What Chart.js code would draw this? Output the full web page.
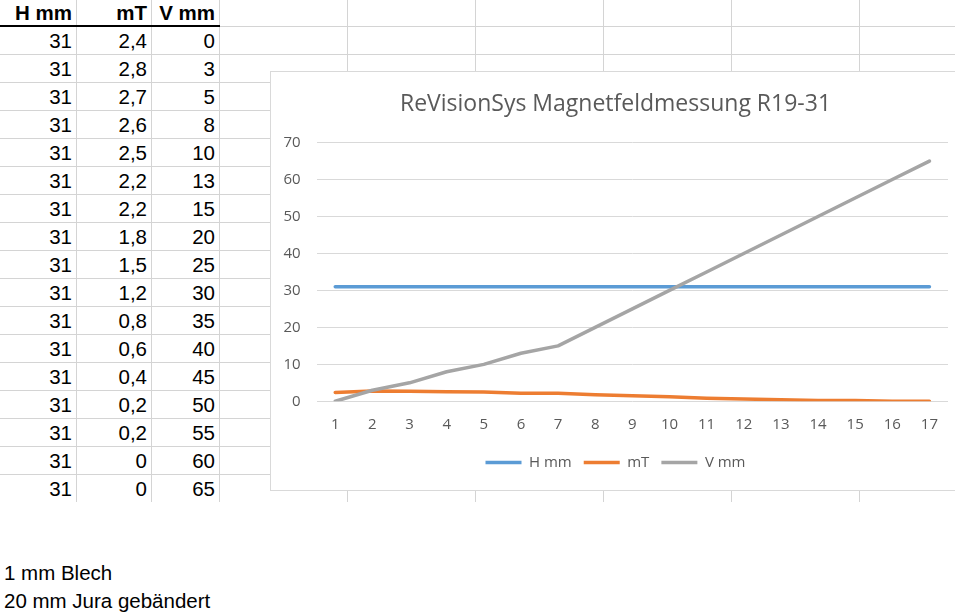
<!DOCTYPE html>
<html>
<head>
<meta charset="utf-8">
<script src="https://cdn.jsdelivr.net/npm/chart.js@4.4.1/dist/chart.umd.min.js"></script>
<style>
  html, body { margin:0; padding:0; background:#fff; overflow:hidden; }
  body { width:955px; height:616px; position:relative; font-family:"Liberation Sans", Arial, sans-serif; }
  .gl { position:absolute; background:#d4d4d4; }
  .cell { position:absolute; height:28px; line-height:29px; text-align:right; font-size:20.5px; color:#000; white-space:nowrap; }
  .head { font-weight:bold; height:26px; line-height:25px; }
  .note { position:absolute; left:4px; font-size:20.5px; line-height:28px; color:#000; white-space:nowrap; }
  #chartBox { position:absolute; left:270px; top:71px; width:690px; height:418px; border:1px solid #d9d9d9; background:#fff; }
  #chartBox canvas { display:block; }
</style>
</head>
<body>
<div id="sheet"></div>
<div id="chartBox"><canvas id="chart" width="690" height="418"></canvas></div>

<script>
// Magnetfeldmessung R19-31 - Werte aus der Tabelle

const columns = ['H mm', 'mT', 'V mm'];
const categories = ['1','2','3','4','5','6','7','8','9','10','11','12','13','14','15','16','17'];
const hMm = [31,31,31,31,31,31,31,31,31,31,31,31,31,31,31,31,31];
const mT  = [2.4,2.8,2.7,2.6,2.5,2.2,2.2,1.8,1.5,1.2,0.8,0.6,0.4,0.2,0.2,0,0];
const vMm = [0,3,5,8,10,13,15,20,25,30,35,40,45,50,55,60,65];
const notes = ['1 mm Blech', '20 mm Jura gebändert'];
const chartTitle = 'ReVisionSys Magnetfeldmessung R19-31';

const TEXT_GREY = '#595959';
const GRID_GREY = '#d9d9d9';
const CHART_FONT = '"Open Sans", "Noto Sans", sans-serif';

function fmtDE(v){
  return String(v).replace('.', ',');
}

function renderSheet(){
  const sheet = document.getElementById('sheet');
  const colRight = [76, 151, 219];
  const vLines = [76, 151, 219, 347, 475, 603, 731, 859];
  const rowH = 28, headH = 26;
  let html = '';

  // Gitterlinien
  for(let i = 1; i < hMm.length; i++){
    html += `<div class="gl" style="left:0;top:${headH + i*rowH}px;width:955px;height:1px"></div>`;
  }
  html += `<div class="gl" style="left:219px;top:26px;width:736px;height:1px"></div>`;
  vLines.forEach(x => {
    html += `<div class="gl" style="left:${x}px;top:0;width:1px;height:${headH + hMm.length*rowH}px"></div>`;
  });
  html += `<div style="position:absolute;left:0;top:25px;width:220px;height:2px;background:#000"></div>`;

  // Kopfzeile
  columns.forEach((c, j) => {
    const left = j === 0 ? 0 : colRight[j-1];
    html += `<div class="cell head" style="left:${left}px;top:0;width:${colRight[j]-left-4}px">${c}</div>`;
  });

  // Daten
  const cols = [hMm, mT, vMm];
  hMm.forEach((_, i) => {
    cols.forEach((arr, j) => {
      const left = j === 0 ? 0 : colRight[j-1];
      html += `<div class="cell" style="left:${left}px;top:${headH + i*rowH}px;width:${colRight[j]-left-4}px">${fmtDE(arr[i])}</div>`;
    });
  });

  notes.forEach((n, i) => {
    html += `<div class="note" style="top:${559 + i*28}px">${n}</div>`;
  });

  sheet.innerHTML = html;
}

function renderChart(){
  const ctx = document.getElementById('chart');
  const line = (label, data, color, order) => ({
    label, data, order,
    borderColor: color,
    backgroundColor: color,
    borderWidth: 3.5,
    borderCapStyle: 'round',
    borderJoinStyle: 'round',
    pointRadius: 0,
    pointHoverRadius: 0,
    tension: 0,
    fill: false
  });

  new Chart(ctx, {
    type: 'line',
    data: {
      labels: categories,
      datasets: [
        line('H mm', hMm, '#5b9bd5', 3),
        line('mT',   mT,  '#ed7d31', 2),
        line('V mm', vMm, '#a5a5a5', 1)
      ]
    },
    options: {
      responsive: false,
      animation: false,
      events: [],
      layout: { padding: { left: 12, right: 13, top: 0, bottom: 10 } },
      plugins: {
        title: {
          display: true,
          text: chartTitle,
          color: TEXT_GREY,
          font: { family: CHART_FONT, size: 23, weight: 'normal' },
          padding: { top: 19, bottom: 24 }
        },
        legend: {
          position: 'bottom',
          labels: {
            usePointStyle: true,
            pointStyle: 'line',
            pointStyleWidth: 36,
            padding: 12,
            color: TEXT_GREY,
            font: { family: CHART_FONT, size: 15 },
            sort: (a, b) => a.datasetIndex - b.datasetIndex
          }
        },
        tooltip: { enabled: false }
      },
      scales: {
        x: {
          offset: true,
          grid: { display: false, drawTicks: false, offset: true },
          border: { display: false },
          ticks: {
            color: TEXT_GREY,
            padding: 14,
            maxRotation: 0,
            autoSkip: false,
            font: { family: CHART_FONT, size: 15 }
          },
          afterFit: s => { s.height = 41.7; }
        },
        y: {
          min: 0,
          max: 70,
          grid: { color: GRID_GREY, drawTicks: false, lineWidth: 1 },
          border: { display: false },
          ticks: {
            stepSize: 10,
            color: TEXT_GREY,
            padding: 16,
            font: { family: CHART_FONT, size: 15 }
          },
          afterFit: s => { s.width = 33.7; }
        }
      }
    }
  });
}

renderSheet();
renderChart();
</script>
</body>
</html>
